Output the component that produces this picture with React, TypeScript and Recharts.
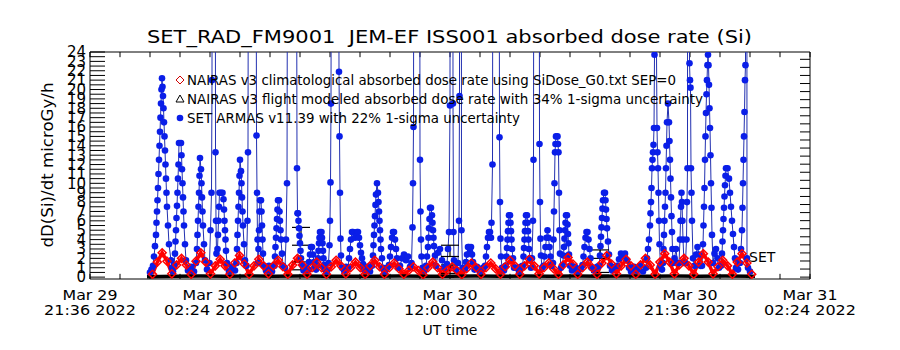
import React from "react";
import { ComposedChart, ErrorBar, Line, ReferenceLine, Scatter, XAxis, YAxis } from "recharts";

const FONT = "'DejaVu Sans', sans-serif";

// x values are hours since 2022-03-30 00:00 UT
const X_MIN = -2.4;
const X_MAX = 26.4;
const Y_MIN = -0.2;
const Y_MAX = 24;
const tickHours = [-2.4, 2.4, 7.2, 12, 16.8, 21.6, 26.4];
const tickDates = ["Mar 29", "Mar 30", "Mar 30", "Mar 30", "Mar 30", "Mar 30", "Mar 31"];
const tickClock = ["21:36 2022", "02:24 2022", "07:12 2022", "12:00 2022", "16:48 2022", "21:36 2022", "02:24 2022"];
const minorHours = Array.from({ length: 25 }, (_, i) => X_MIN + i * 1.2);
const doseTicks = Array.from({ length: 25 }, (_, i) => i);
const doseMinor = Array.from({ length: 49 }, (_, i) => i / 2);
const rightMinor = Array.from({ length: 28 }, (_, i) => i * 0.86);

// NAIRAS climatological, sampled every ~11.6 min
const climStart = 0.1;
const climStep = 0.1933;
const nairasClim = [
  0.3,
  1.6, 2.6, 1.7, 0.35, 1.3, 2.0, 1.3, 0.3, 1.7, 2.6, 1.6, 0.35, 1.2, 1.9, 1.2, 0.3,
  1.5, 2.3, 1.4, 0.3, 1.2, 1.9, 1.2, 0.35, 1.2, 1.8, 1.1, 0.3, 1.3, 2.0, 1.3, 0.3,
  1.0, 1.6, 1.0, 0.3, 1.1, 1.8, 1.2, 0.35, 1.0, 1.6, 1.0, 0.3, 1.2, 1.8, 1.1, 0.3,
  1.0, 1.5, 0.9, 0.3, 0.7, 1.1, 0.7, 0.25, 1.0, 1.6, 1.0, 0.3, 0.7, 1.1, 0.7, 0.25,
  0.9, 1.5, 1.0, 0.3, 1.0, 1.5, 0.9, 0.3, 1.1, 1.8, 1.2, 0.3, 1.2, 1.9, 1.2, 0.35,
  1.0, 1.5, 0.9, 0.3, 1.3, 2.1, 1.4, 0.3, 1.0, 1.6, 1.0, 0.3, 1.5, 2.3, 1.4, 0.35,
  1.2, 1.9, 1.2, 0.3, 1.3, 2.0, 1.3, 0.3, 1.6, 2.5, 1.6, 0.35, 1.3, 2.0, 1.2, 0.3,
  1.6, 2.5, 1.6, 0.35, 1.1, 1.8, 1.2, 0.3, 1.6, 2.5, 1.5, 0.3,
];

// NAIRAS flight modeled
const flightTime = [-0.12, 1, 2, 3, 4, 5, 6, 7, 8, 9, 10, 11, 12, 13, 14, 15, 16, 17, 18, 19, 20, 21, 22, 23, 24, 24.2];
const nairasFlight = [
  0.05, 0.1, 0.12, 0.1, 0.11, 0.1, 0.12, 0.1, 0.09, 0.1, 0.11, 0.1, 0.1, 0.12, 0.1, 0.11, 0.1, 0.12,
  0.1, 0.11, 0.1, 0.12, 0.1, 0.11, 0.1, 0.1,
];

// SET ARMAS, one row per pass
const armasTime = [
  [0.0, 0.06],
  [0.12, 0.16, 0.2, 0.24, 0.26, 0.28, 0.3, 0.32, 0.34, 0.36, 0.38, 0.4, 0.42, 0.44, 0.46, 0.48, 0.5, 0.52, 0.54, 0.56, 0.58, 0.6, 0.62, 0.64, 0.66, 0.68, 0.72, 0.76, 0.84],
  [0.88, 0.92],
  [0.96, 1.0, 1.02, 1.04, 1.06, 1.08, 1.1, 1.12, 1.14, 1.16, 1.24, 1.26, 1.28, 1.3, 1.32, 1.34, 1.36, 1.4, 1.44],
  [1.52, 1.64, 1.76],
  [1.84, 1.88, 1.9, 1.92, 1.94, 1.96, 1.98, 2.0, 2.04, 2.06, 2.08, 2.1, 2.12, 2.16, 2.2],
  [2.28],
  [2.38, 2.42, 2.46, 2.48, 2.54, 2.62, 2.64, 2.66],
  [2.7, 2.72, 2.74, 2.76, 2.78, 2.84, 2.9, 2.94, 2.96, 2.98, 3.0, 3.02, 3.04, 3.08],
  [3.16, 3.28, 3.4],
  [3.46, 3.48, 3.5, 3.52, 3.54, 3.56, 3.58, 3.6, 3.64, 3.66, 3.68, 3.7, 3.72, 3.76, 3.8],
  [3.86, 3.9, 3.92, 4.08, 4.26, 4.28, 4.3, 4.32, 4.34, 4.36, 4.38, 4.4, 4.44, 4.46, 4.48, 4.5, 4.52, 4.56],
  [4.64, 4.76, 4.88],
  [4.98, 5.0, 5.02, 5.04, 5.06, 5.08, 5.1, 5.12, 5.16, 5.18, 5.2, 5.22, 5.24, 5.28, 5.32],
  [5.4, 5.44, 5.48, 5.68, 5.88, 5.9, 5.92, 5.94, 5.96, 5.98, 6.0, 6.02, 6.04, 6.08, 6.14],
  [6.24],
  [6.32, 6.36, 6.4, 6.44, 6.48, 6.52, 6.56, 6.6, 6.64],
  [6.68, 6.72, 6.74, 6.76, 6.78, 6.8, 6.86, 6.88, 6.9, 6.92, 6.94, 6.96, 7.0],
  [7.08],
  [7.14, 7.18, 7.2, 7.22, 7.24, 7.4, 7.56, 7.58, 7.6, 7.62, 7.64, 7.68],
  [7.76, 7.84],
  [7.92, 7.96, 8.0, 8.04, 8.08, 8.12, 8.2, 8.28, 8.32, 8.36, 8.4, 8.44, 8.48, 8.52, 8.58],
  [8.68, 8.8],
  [8.88, 8.92, 8.94, 8.96, 8.98, 9.0, 9.02, 9.04, 9.08, 9.12, 9.14, 9.16, 9.18, 9.2, 9.22, 9.24, 9.28, 9.32],
  [9.4, 9.48],
  [9.56, 9.6, 9.64, 9.68, 9.72, 9.76, 9.8, 9.84, 9.88, 9.92],
  [10.0, 10.08, 10.16, 10.24, 10.32, 10.4],
  [10.46, 10.5, 10.52, 10.54, 10.68, 10.8, 10.82, 10.84, 10.86, 10.9],
  [10.98],
  [11.04, 11.08, 11.12, 11.14, 11.16, 11.18, 11.2, 11.24, 11.28, 11.3, 11.32, 11.34, 11.36, 11.4, 11.44],
  [11.52, 11.6, 11.68, 11.76],
  [11.88, 11.92, 11.96, 12.0, 12.06, 12.12, 12.14, 12.16],
  [12.24],
  [12.32, 12.36, 12.38, 12.42, 12.46, 12.5],
  [12.6, 12.64, 12.68, 12.72, 12.76, 12.8, 12.84, 12.88, 12.92, 12.98],
  [13.08, 13.2, 13.32],
  [13.4, 13.44, 13.48, 13.52, 13.56, 13.6, 13.64, 13.66, 13.7, 13.84, 13.98, 14.0, 14.02, 14.04, 14.08],
  [14.16],
  [14.22, 14.26, 14.28, 14.3, 14.32, 14.34, 14.36, 14.4, 14.42, 14.44, 14.46, 14.48, 14.52, 14.56],
  [14.64, 14.76, 14.84],
  [14.9, 14.94, 14.96, 14.98, 15.0, 15.02, 15.04, 15.08, 15.1, 15.12, 15.14, 15.16, 15.2, 15.24],
  [15.28, 15.32, 15.34, 15.46, 15.58, 15.6, 15.62, 15.64, 15.68],
  [15.74, 15.78, 15.82, 15.86, 15.9, 15.94, 15.98, 16.02, 16.06],
  [16.12, 16.14, 16.16, 16.18, 16.2, 16.22, 16.24, 16.3, 16.32, 16.34, 16.36, 16.38, 16.4, 16.44],
  [16.5, 16.54, 16.56, 16.58, 16.6, 16.62, 16.64, 16.68, 16.7, 16.72, 16.74, 16.76, 16.8],
  [16.88, 17.0, 17.12, 17.24],
  [17.3, 17.34, 17.38, 17.42, 17.46, 17.5, 17.54, 17.58, 17.62, 17.66],
  [17.76, 17.88],
  [17.96, 18.0, 18.02, 18.04, 18.06, 18.08, 18.1, 18.12, 18.16, 18.2, 18.22, 18.24, 18.26, 18.28, 18.32, 18.36, 18.4],
  [18.48, 18.6],
  [18.68, 18.76, 18.84, 18.92, 19.0, 19.08, 19.16],
  [19.24, 19.36, 19.48, 19.6, 19.72],
  [19.84, 19.88, 19.92, 19.96, 20.0, 20.02, 20.04, 20.06, 20.08, 20.1, 20.12, 20.14, 20.16, 20.18, 20.22, 20.28, 20.3, 20.32, 20.34, 20.36, 20.38, 20.42],
  [20.48],
  [20.52, 20.54, 20.56, 20.58, 20.6, 20.62, 20.64, 20.66, 20.68, 20.72, 20.76, 20.78, 20.8, 20.82, 20.84, 20.86, 20.88, 20.9, 20.92],
  [20.98, 21.04, 21.1],
  [21.16, 21.2, 21.22, 21.24, 21.26, 21.28, 21.3, 21.32, 21.36],
  [21.42, 21.46, 21.48, 21.5, 21.54, 21.58, 21.6, 21.62, 21.64, 21.66, 21.68, 21.72],
  [21.78, 21.84, 21.9, 21.96, 22.02],
  [22.08, 22.12, 22.14, 22.16, 22.18, 22.2, 22.22, 22.24, 22.26, 22.28, 22.3, 22.32, 22.34, 22.36, 22.38, 22.4, 22.42, 22.44, 22.46, 22.48, 22.52],
  [22.58, 22.64, 22.7, 22.76],
  [22.84, 22.88, 22.9, 22.92, 22.94, 22.96, 22.98, 23.0, 23.02, 23.04, 23.1, 23.16, 23.2, 23.24, 23.28, 23.32, 23.36, 23.4, 23.44],
  [23.52],
  [23.6, 23.64, 23.68, 23.7, 23.72, 23.74, 23.76, 23.78, 23.8, 23.82, 23.84, 23.88, 23.92, 24.0],
];
const armasDose = [
  [0.5, 0.8],
  [1.2, 2.2, 3.3, 4.5, 5.8, 7, 8.2, 9.5, 11, 12.5, 14, 15.5, 17, 18.5, 20, 21.2, 20.3, 19.3, 18, 16.5, 15, 13.5, 12, 10.5, 9, 7.5, 5.5, 3.5, 1.8],
  [1.0, 0.6],
  [1.3, 2.5, 3.8, 5, 6.3, 7.6, 9, 10.5, 12, 14.3, 14.3, 13, 11.5, 10, 8.5, 7, 5.5, 3.5, 1.8],
  [0.7, 1.1, 0.6],
  [1.5, 3, 4.5, 6, 7.5, 9, 10.8, 12.7, 11.5, 10, 8.5, 7, 5.5, 3.5, 1.8],
  [0.8],
  [1.5, 5, 9, 21, 300, 13.3, 6, 2.5],
  [3, 4.5, 6, 7.5, 9, 9, 9, 8.3, 7.2, 6, 5, 4, 2.8, 1.5],
  [0.6, 1.1, 0.7],
  [1.5, 3, 4.5, 6, 7.5, 9, 10.8, 12.5, 11.3, 10, 8.5, 7, 5.5, 3.5, 1.8],
  [1.2, 6, 13.3, 300, 15.1, 9, 4, 1.5, 3, 5, 7, 8.2, 8.2, 7, 5.5, 4, 2.5, 1.2],
  [0.7, 1.2, 0.6],
  [1.2, 2.2, 3.2, 4.2, 5.2, 6.2, 7.2, 8.2, 8.2, 7, 6, 5, 4, 2.5, 1.2],
  [1, 4, 10, 300, 11.6, 6.8, 6.8, 6, 5.2, 4.4, 3.6, 2.8, 2, 1.3, 0.7],
  [1.0],
  [0.8, 1.6, 2.4, 3.2, 3.2, 2.4, 1.6, 1.2, 0.8],
  [1.2, 2, 2.8, 3.6, 4.2, 4.8, 4.8, 4.2, 3.6, 2.8, 2, 1.3, 0.8],
  [0.6],
  [1.5, 3.4, 6, 10.1, 18.5, 300, 21.9, 15, 9, 4.1, 2.3, 1],
  [0.7, 1.1],
  [1, 2, 3, 4, 4.8, 4.8, 4.2, 4.8, 4.8, 4.2, 3.4, 2.6, 2, 1.4, 0.8],
  [1.1, 0.6],
  [1.2, 2.3, 3.4, 4.5, 5.5, 6.5, 7.7, 8.8, 10, 9, 8, 7, 6, 5, 4, 3, 2, 1],
  [0.6, 1.0],
  [1.3, 2.2, 3.2, 4.2, 4.8, 4.8, 4, 3, 2, 1],
  [1.2, 2, 2.4, 1.8, 2.2, 1.1],
  [1.5, 5.3, 10, 16, 300, 12.5, 7, 4, 2.2, 1],
  [0.7],
  [1.2, 2.2, 3.2, 4.2, 5.2, 6.2, 7.4, 7.4, 6.6, 5.8, 5, 4.2, 3.3, 2.3, 1.2],
  [2.6, 3, 1.8, 1.0],
  [1.4, 3, 4.8, 18.3, 300, 18.5, 4.8, 1.8],
  [0.8],
  [1.5, 6, 19.3, 300, 5, 1],
  [0.9, 1.6, 2.4, 3.2, 3.2, 2.7, 3.2, 2.4, 1.6, 0.8],
  [1.1, 0.6, 1.0],
  [1.2, 2.2, 3.2, 4.2, 4.8, 4.8, 4.2, 5.8, 12, 300, 14.9, 8, 4.1, 2.2, 1],
  [0.7],
  [1.2, 2.2, 3.1, 4, 4.9, 5.8, 6.6, 6.6, 5.8, 4.9, 4, 3, 2, 1],
  [1.0, 0.6, 1.1],
  [1.2, 2.2, 3.1, 4, 4.9, 5.8, 6.6, 6.6, 5.8, 4.9, 4, 3, 2, 1],
  [2, 6, 12.5, 300, 14.2, 8, 4.1, 2.3, 1],
  [1.2, 2.2, 3.2, 4.2, 5.0, 4.2, 3.2, 2.2, 1.2],
  [1.5, 4, 7, 10, 13.3, 14.2, 15, 15, 14.2, 13.3, 9, 5, 2.5, 1],
  [1.3, 2.3, 3.2, 4.1, 5, 5.8, 6.6, 6.6, 5.6, 4.6, 3.6, 2.4, 1.2],
  [0.7, 1.1, 0.6, 1.0],
  [1.3, 2.2, 3.2, 4.2, 4.8, 4.8, 4, 3, 2, 1],
  [0.7, 1.1],
  [1.2, 2.3, 3.3, 4.3, 5.3, 6.3, 7.3, 8.2, 9, 9, 8.2, 7.2, 6.2, 5.2, 3.8, 2.4, 1.2],
  [0.7, 1.1],
  [1.2, 1.9, 2.5, 2.2, 2.5, 1.8, 1],
  [0.6, 1.1, 0.7, 1.2, 0.6],
  [1, 2, 3, 4, 5.5, 6.8, 8, 9.5, 11.6, 12.5, 13.3, 14.1, 15.9, 23.7, 40, 15.9, 13.3, 11.6, 9, 6, 3.5, 1.2],
  [0.8],
  [1.5, 3, 4.5, 6, 7.5, 9, 11.6, 14, 16.5, 18.5, 16.5, 14.5, 12.5, 10.5, 8.5, 6.5, 4.8, 3, 1.5],
  [2, 3, 1.5],
  [1.5, 4, 6, 7.5, 9, 8, 6, 4, 1.5],
  [1.5, 4, 8, 11.6, 300, 22.8, 21, 20.2, 11.6, 9, 6, 2],
  [1.2, 2.4, 3.2, 2.4, 1.2],
  [1.2, 3.5, 5.5, 7.5, 9.5, 12.5, 15, 17.5, 19.5, 21, 22.6, 23.7, 22.6, 20.5, 18, 15.9, 13, 10, 7.4, 4.5, 1.5],
  [2.5, 3, 2, 1],
  [1.2, 2.5, 3.8, 5, 6.2, 7.4, 8.6, 9.8, 10.8, 11.6, 11.6, 10.5, 9, 7.5, 6, 4.6, 3.2, 2, 1],
  [0.8],
  [1.5, 3, 5, 7.4, 10, 12.5, 15, 17.6, 21, 22.6, 300, 2, 1, 0.6],
];

// 1-sigma bars
const errTime = [6.04, 6.04, 12.0, 12.0, 18.0, 18.0];
const errDose = [4.35, 1.2, 2.8, 0.85, 2.45, 0.35];
const errSigma = [0.95, 0.42, 0.6, 0.45, 0.45, 0.15];

const climData = nairasClim.map((v, i) => ({ t: climStart + i * climStep, v }));
const flightData = flightTime.map((t, i) => ({ t, v: nairasFlight[i] }));
const armasData = armasTime.flatMap((seg, s) => seg.map((t, i) => ({ t, v: armasDose[s][i] })));
const errData = errTime.map((t, i) => ({ t, v: errDose[i], err: errSigma[i] }));

const DateTick = (props: any) => {
  const { x, y, payload } = props;
  const i = tickHours.indexOf(payload.value);
  if (i < 0) return <g />;
  return (
    <g>
      <text x={x} y={y + 21} textAnchor="middle" fontSize={14} fontFamily={FONT} fill="#000" textLength={55} lengthAdjust="spacingAndGlyphs">
        {tickDates[i]}
      </text>
      <text x={x} y={y + 36} textAnchor="middle" fontSize={14} fontFamily={FONT} fill="#000" textLength={92} lengthAdjust="spacingAndGlyphs">
        {tickClock[i]}
      </text>
    </g>
  );
};

const Diamond = (props: any) => {
  const { cx, cy } = props;
  if (cx == null || cy == null) return <g />;
  return (
    <path
      d={`M${cx} ${cy - 4}L${cx + 4} ${cy}L${cx} ${cy + 4}L${cx - 4} ${cy}Z`}
      fill="none"
      stroke="#ff0000"
      strokeWidth={1.5}
    />
  );
};

const NoShape = () => <g />;

const frame = { xAxisId: "main", yAxisId: "main", stroke: "#000", strokeWidth: 1, ifOverflow: "visible" as const };

const App = () => {
  return (
    <div style={{ position: "absolute", left: 0, top: 0, width: 900, height: 350, background: "#fff" }}>
      <ComposedChart width={900} height={350} margin={{ top: 52, right: 90, bottom: 0, left: 0 }}>
        <XAxis
          xAxisId="main"
          dataKey="t"
          type="number"
          domain={[X_MIN, X_MAX]}
          allowDataOverflow
          ticks={tickHours}
          interval={0}
          tick={<DateTick />}
          tickLine={false}
          tickSize={0}
          tickMargin={0}
          height={71}
          axisLine={{ stroke: "#000" }}
        />
        <YAxis
          yAxisId="main"
          type="number"
          domain={[Y_MIN, Y_MAX]}
          allowDataOverflow
          ticks={doseTicks}
          interval={0}
          width={90}
          tickSize={0}
          tickMargin={4}
          tickLine={false}
          tick={{ fontSize: 15, fontFamily: FONT, fill: "#000" }}
          axisLine={{ stroke: "#000" }}
        />

        {/* plot frame: top and right borders, inward ticks */}
        <ReferenceLine {...frame} y={Y_MAX} />
        <ReferenceLine {...frame} x={X_MAX} />
        {doseMinor.map((v) => (
          <ReferenceLine key={`l${v}`} {...frame} segment={[{ x: X_MIN, y: v }, { x: X_MIN + 0.6, y: v }]} />
        ))}
        {rightMinor.map((v) => (
          <ReferenceLine key={`r${v}`} {...frame} segment={[{ x: X_MAX - 0.4, y: v }, { x: X_MAX, y: v }]} />
        ))}
        {minorHours.map((h) => (
          <ReferenceLine key={`b${h}`} {...frame} segment={[{ x: h, y: Y_MIN }, { x: h, y: Y_MIN + 0.55 }]} />
        ))}
        {minorHours.map((h) => (
          <ReferenceLine key={`t${h}`} {...frame} segment={[{ x: h, y: Y_MAX - 0.55 }, { x: h, y: Y_MAX }]} />
        ))}

        <Line
          xAxisId="main"
          yAxisId="main"
          data={armasData}
          dataKey="v"
          type="linear"
          stroke="#2230b0"
          strokeWidth={1}
          dot={{ r: 3.3, fill: "#0a1ee8", stroke: "none" }}
          isAnimationActive={false}
        />
        <Line
          xAxisId="main"
          yAxisId="main"
          data={climData}
          dataKey="v"
          type="linear"
          stroke="#ff0000"
          strokeWidth={3.5}
          dot={Diamond}
          isAnimationActive={false}
        />
        <Line
          xAxisId="main"
          yAxisId="main"
          data={flightData}
          dataKey="v"
          type="linear"
          stroke="#000"
          strokeWidth={3.5}
          dot={false}
          isAnimationActive={false}
        />
        <Scatter xAxisId="main" yAxisId="main" data={errData} dataKey="v" shape={NoShape} isAnimationActive={false}>
          <ErrorBar dataKey="err" direction="y" width={9} stroke="#000" strokeWidth={1.2} />
        </Scatter>
      </ComposedChart>
      <svg width={900} height={350} style={{ position: "absolute", left: 0, top: 0, pointerEvents: "none" }}>
        <text x={147} y={43} fontSize={18} fontFamily={FONT} fill="#000" textLength={605} lengthAdjust="spacingAndGlyphs">
          {"SET_RAD_FM9001\u00a0\u00a0JEM-EF ISS001 absorbed dose rate (Si)"}
        </text>
        <text
          transform="translate(53,165) rotate(-90)"
          textAnchor="middle"
          fontSize={15}
          fontFamily={FONT}
          fill="#000"
          textLength={165}
          lengthAdjust="spacingAndGlyphs"
        >
          dD(Si)/dt microGy/h
        </text>
        <text x={450} y={335} textAnchor="middle" fontSize={14} fontFamily={FONT} fill="#000">
          UT time
        </text>
        <path d="M180 76L184 80L180 84L176 80Z" fill="none" stroke="#d00000" strokeWidth={1} />
        <path d="M180 95L184 102L176 102Z" fill="none" stroke="#000" strokeWidth={1} />
        <circle cx={180} cy={118} r={3.3} fill="#0a1ee8" />
        <g fontSize={14} fontFamily={FONT} fill="#000">
          <text x={187} y={85} textLength={489} lengthAdjust="spacingAndGlyphs">
            NAIRAS v3 climatological absorbed dose rate using SiDose_G0.txt SEP=0
          </text>
          <text x={187} y={104} textLength={516} lengthAdjust="spacingAndGlyphs">
            NAIRAS v3 flight modeled absorbed dose rate with 34% 1-sigma uncertainty
          </text>
          <text x={187} y={123} textLength={333} lengthAdjust="spacingAndGlyphs">
            SET ARMAS v11.39 with 22% 1-sigma uncertainty
          </text>
          <text x={749} y={262}>SET</text>
        </g>
      </svg>
    </div>
  );
};

export default App;
